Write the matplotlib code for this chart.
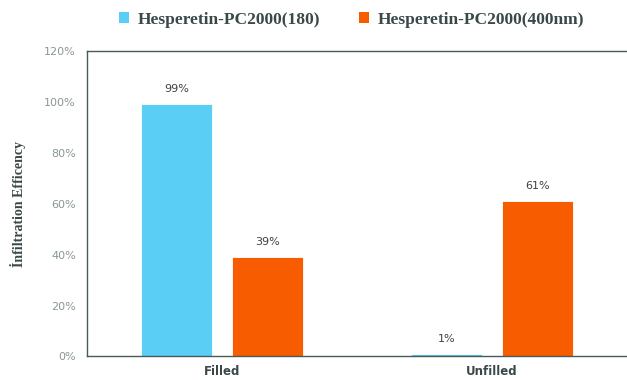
import matplotlib
matplotlib.use("Agg")
import matplotlib.pyplot as plt
import numpy as np
from matplotlib.patches import Patch

categories = ["Filled", "Unfilled"]
series_names = ["Hesperetin-PC2000(180)", "Hesperetin-PC2000(400nm)"]
values_180 = [99, 1]
values_400 = [39, 61]
yticks = [0, 20, 40, 60, 80, 100, 120]

colors = ["#5BCEF5", "#F75C00"]

fig = plt.figure(figsize=(6.27, 3.8), dpi=100)
ax = fig.add_axes([0.1388, 0.062, 0.8612, 0.804])

x = np.arange(len(categories))
width = 0.263
offset = 0.167
for vals, off, col in [(values_180, -offset, colors[0]), (values_400, offset, colors[1])]:
    bars = ax.bar(x + off, vals, width, color=col, edgecolor="white", linewidth=0.6)
    for b, v in zip(bars, vals):
        ax.text(b.get_x() + b.get_width() / 2, v + 4, f"{v}%", ha="center", va="bottom",
                fontsize=8, color="#404040")

ax.set_xlim(-0.5, 1.5)
ax.set_ylim(0, 120)
ax.set_yticks(yticks)
ax.set_yticklabels([f"{t}%" for t in yticks], fontsize=8, color="#8a9696")
ax.set_xticks(x)
ax.set_xticklabels(categories, fontsize=8.5, fontweight="bold", color="#3a4848")
ax.tick_params(axis="both", length=0, pad=8)
ax.tick_params(axis="x", pad=6)
for side in ["left", "top", "bottom"]:
    ax.spines[side].set_color("#4a5858")
    ax.spines[side].set_linewidth(1.0)
ax.spines["right"].set_visible(False)

ax.set_ylabel("İnfiltration Efficency", fontsize=10, fontweight="bold",
              family="Liberation Serif", color="#3a4848", labelpad=13)

handles = [Patch(facecolor=c, edgecolor="none") for c in colors]
fig.legend(handles, series_names, loc="upper left", bbox_to_anchor=(0.165, 1.01), ncol=2,
           frameon=False, handlelength=0.6, handleheight=0.6, columnspacing=2.2,
           handletextpad=0.5,
           prop={"family": "Liberation Serif", "weight": "bold", "size": 12.5})
for t in fig.legends[0].get_texts():
    t.set_color("#3a4848")

fig.savefig("out.png", dpi=100)
